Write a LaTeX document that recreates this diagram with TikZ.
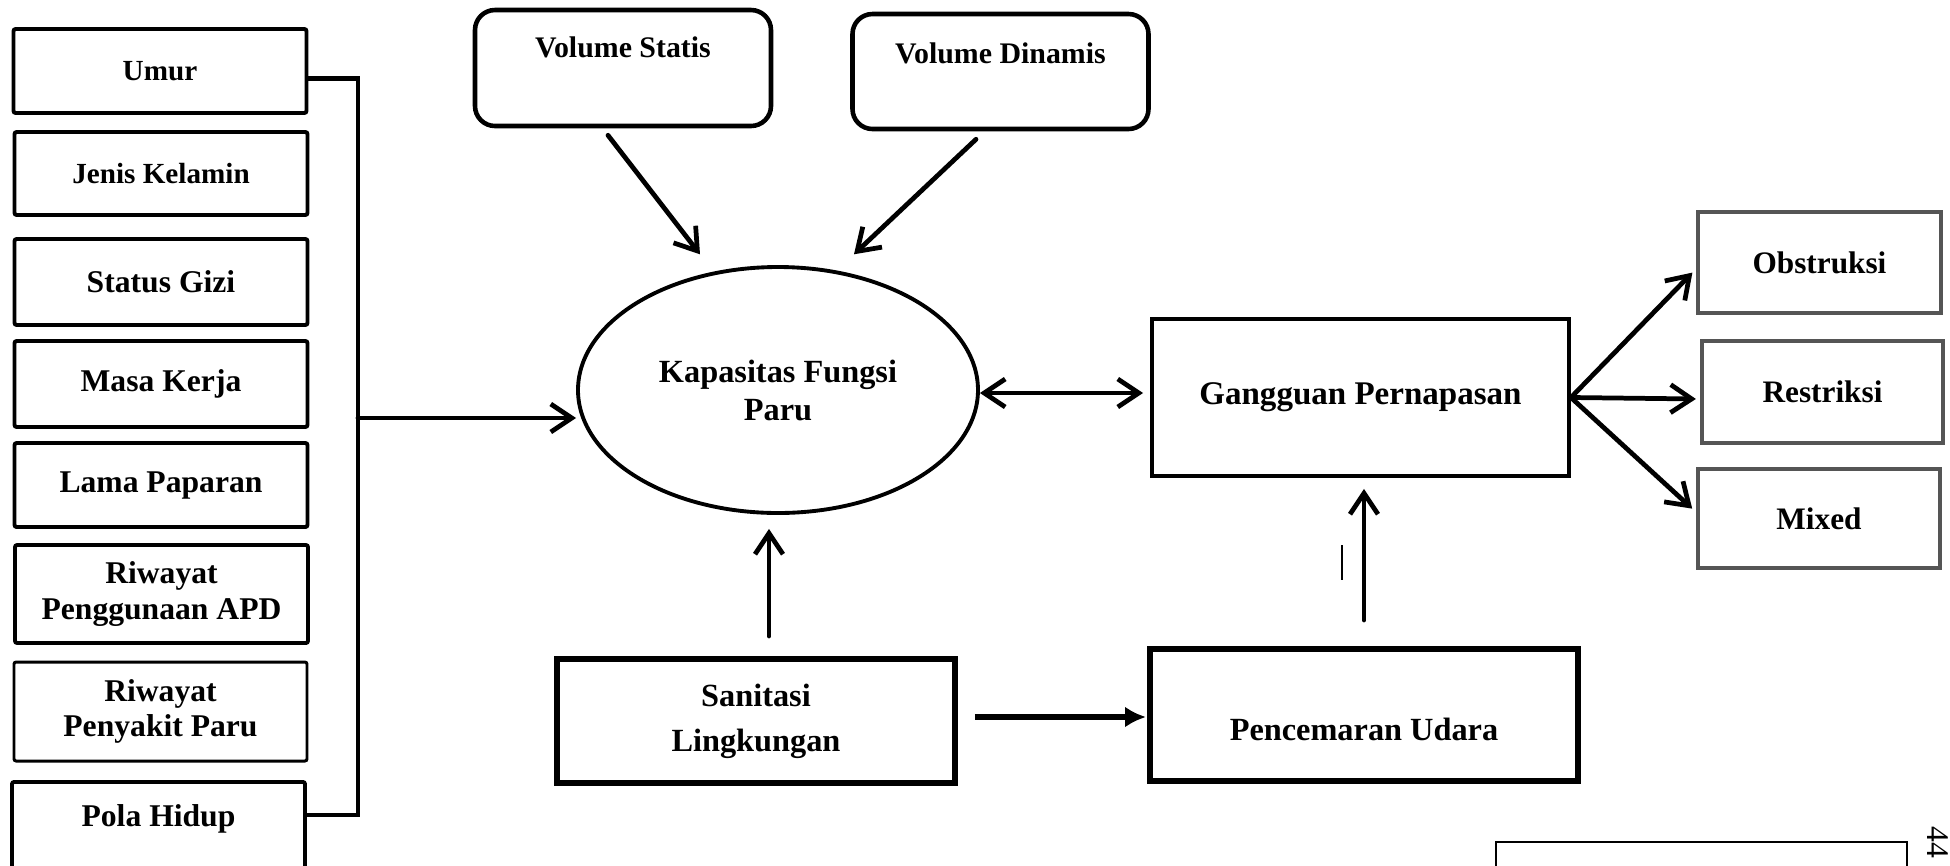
\documentclass[tikz,border=0pt]{standalone}
\usepackage{fontspec}
\setmainfont{Liberation Serif}
\usepackage{tikz}
\usetikzlibrary{arrows.meta, shapes.geometric}
\definecolor{boxgray}{HTML}{555555}

\begin{document}
\begin{tikzpicture}[>={Straight Barb[length=2.1mm,width=2.8mm]},
    lbox/.style={draw, line width=1.1pt, rounded corners=0.6pt, minimum width=2.93cm,
        minimum height=0.85cm, inner sep=1mm, align=center,
        font=\fontsize{9}{10}\selectfont\bfseries},
    vbox/.style={draw, line width=1.3pt, rounded corners=2mm, minimum width=2.96cm,
        inner ysep=1mm, font=\fontsize{8.5}{10}\selectfont\bfseries},
    gbox/.style={draw=boxgray, line width=1.2pt, minimum width=2.42cm, minimum height=1.0cm,
        font=\fontsize{8.9}{10}\selectfont\bfseries},
    arr/.style={->, line width=1.35pt, line cap=round},
    farr/.style={-{Latex[length=2.1mm,width=2.1mm]}, line width=1.7pt}]
    \useasboundingbox (0,0) rectangle (19.5,-8.65);
    \clip (0,0) rectangle (19.5,-8.65);

    \node[lbox, minimum height=0.84cm, font=\fontsize{8.3}{10}\selectfont\bfseries] (umur) at (1.60,-0.71) {Umur};
    \node[lbox, minimum height=0.83cm, font=\fontsize{8.3}{10}\selectfont\bfseries] (jenis) at (1.61,-1.735) {Jenis Kelamin};
    \node[lbox, minimum height=0.86cm] (gizi) at (1.61,-2.82) {Status Gizi};
    \node[lbox, minimum height=0.86cm] (masa) at (1.61,-3.84) {Masa Kerja};
    \node[lbox, minimum height=0.84cm] (lama) at (1.61,-4.85) {Lama Paparan};
    \node[lbox, minimum height=0.98cm] (apd) at (1.615,-5.94) {Riwayat\\Penggunaan APD};
    \node[lbox, minimum height=0.99cm, line width=0.85pt] (rpar) at (1.605,-7.115) {Riwayat\\Penyakit Paru};
    \node[lbox, anchor=north, text height=0.35cm, text depth=0.8cm] (pola) at (1.585,-7.80) {Pola Hidup};

    \coordinate (bt) at (3.58,-0.785);
    \coordinate (bb) at (3.58,-8.15);
    \coordinate (fork) at (3.58,-4.18);
    \draw[line width=1.2pt] (umur.east |- bt) -- (bt) -- (bb) -- (pola.east |- bb);

    \node[vbox, text height=0.37cm, text depth=0.59cm] (vstat) at (6.23,-0.68) {Volume Statis};
    \node[vbox, text height=0.39cm, text depth=0.56cm] (vdin) at (10.005,-0.715) {Volume Dinamis};

    \node[draw, ellipse, line width=1.1pt, minimum width=4.0cm, minimum height=2.46cm, inner sep=0pt,
        align=center, font=\fontsize{9.2}{10.8}\selectfont\bfseries] (ell) at (7.78,-3.90) {Kapasitas Fungsi\\Paru};

    \node[draw, line width=1.1pt, minimum width=4.17cm, minimum height=1.57cm,
        font=\fontsize{9.4}{11}\selectfont\bfseries] (gang) at (13.605,-3.975) {Gangguan Pernapasan};

    \node[gbox, minimum width=2.43cm, minimum height=1.01cm] (obst) at (18.195,-2.625) {Obstruksi};
    \node[gbox, minimum width=2.41cm, minimum height=1.02cm] (rest) at (18.225,-3.92) {Restriksi};
    \node[gbox, minimum height=0.99cm] (mixd) at (18.19,-5.185) {Mixed};

    \node[draw, line width=1.7pt, minimum width=3.98cm, minimum height=1.24cm, align=center,
        font=\fontsize{9.2}{12.8}\selectfont\bfseries] (san) at (7.56,-7.21) {Sanitasi\\Lingkungan};
    \node[draw, line width=1.7pt, minimum width=4.28cm, inner ysep=1mm, text height=0.81cm, text depth=0.31cm,
        font=\fontsize{9.2}{11}\selectfont\bfseries] (penc) at (13.64,-7.15) {Pencemaran Udara};

    \draw[arr] (fork) -- (fork -| ell.west);
    \draw[arr] ([xshift=-1.5mm,yshift=-0.7mm]vstat.south) -- ++(0.92,-1.19);
    \draw[arr] ([xshift=-2.45mm,yshift=-0.8mm]vdin.south) -- ++(-1.22,-1.15);

    \coordinate (mide) at ([yshift=-0.3mm]ell.east);
    \draw[arr, <->, shorten >=0.7mm] (mide) -- (mide -| gang.west);

    \draw[arr, shorten >=0.5mm] (gang.east) -- ([yshift=-0.65mm]obst.west);
    \draw[arr, shorten >=0.4mm] (gang.east) -- ([yshift=-0.7mm]rest.west);
    \draw[arr, shorten >=0.5mm] (gang.east) -- ([yshift=0.65mm]mixd.west);

    \coordinate (up) at ([xshift=-0.9mm]ell.south);
    \draw[arr, shorten <=2mm, shorten >=1.4mm] (san.north -| up) -- (up);
    \coordinate (mids) at ([yshift=0.4mm]san.east);
    \draw[farr, shorten <=1.7mm, shorten >=0.1mm] (mids) -- (mids -| penc.west);
    \draw[arr, shorten <=2.6mm, shorten >=1.1mm] (penc.north) -- (penc.north |- gang.south);

    \draw[line width=0.45pt] (13.42,-5.45) -- (13.42,-5.80);

    \draw[line width=0.5pt] (14.96,-8.42) rectangle (19.07,-9.2);
    \node[rotate=-90, inner sep=0pt, font=\fontsize{9}{10}\selectfont] (pg) at (19.38,-8.42) {44};
\end{tikzpicture}
\end{document}
